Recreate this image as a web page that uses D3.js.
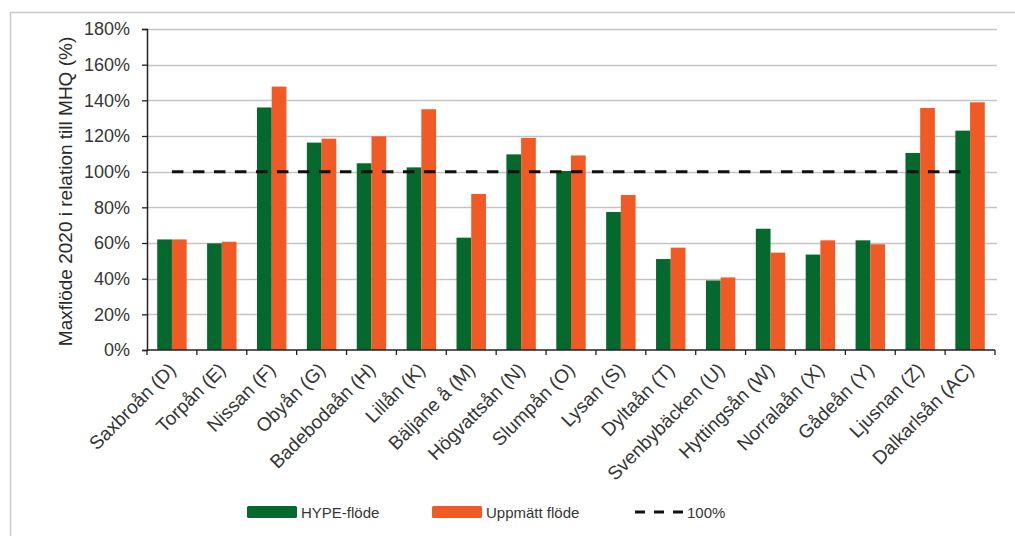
<!DOCTYPE html>
<html>
<head>
<meta charset="utf-8">
<script src="https://cdn.jsdelivr.net/npm/d3@7"></script>
<style>
  html, body { margin: 0; padding: 0; background: #fff; }
  svg { display: block; font-family: "Liberation Sans", Arial, sans-serif; }
</style>
</head>
<body>
<svg id="chart" width="1015" height="536"></svg>
<script>
// Stations (river name + site code)
const categories = [
  "Saxbroån (D)", "Torpån (E)", "Nissan (F)", "Obyån (G)", "Badebodaån (H)",
  "Lillån (K)", "Bäljane å (M)", "Högvattsån (N)", "Slumpån (O)", "Lysan (S)",
  "Dyltaån (T)", "Svenbybäcken (U)", "Hyttingsån (W)", "Norralaån (X)",
  "Gådeån (Y)", "Ljusnan (Z)", "Dalkarlsån (AC)"
];
// Max flow 2020 as percent of MHQ
const hypeValues = [62, 59.8, 136, 116.3, 104.7, 102.4, 63, 109.7, 100.4, 77.4, 51, 39, 68, 53.5, 61.5, 110.5, 123];
const measuredValues = [62, 60.7, 147.7, 118.5, 119.8, 135, 87.5, 118.9, 109.1, 86.9, 57.4, 40.7, 54.6, 61.5, 59.3, 135.7, 138.9];
const seriesNames = ["HYPE-flöde", "Uppmätt flöde"];
const referenceLevel = 100;
const referenceLabel = "100%";
const yTicks = [0, 20, 40, 60, 80, 100, 120, 140, 160, 180];
const yTitle = "Maxflöde 2020 i relation till MHQ (%)";

const colors = ["#05692e", "#f15a24"];
const textColor = "#363636";

const svg = d3.select("#chart");

// Outer frame (left and top edges only)
svg.append("path")
  .attr("d", "M10.5,536 L10.5,12.5 L1015,12.5")
  .attr("fill", "none")
  .attr("stroke", "#c9c9c9")
  .attr("stroke-width", 1.5);

const plot = { left: 147, right: 995, top: 29, bottom: 350 };

const x = d3.scaleBand()
  .domain(categories)
  .range([plot.left, plot.right])
  .paddingInner(0.41)
  .paddingOuter(0.205);

const xs = d3.scaleBand()
  .domain(seriesNames)
  .range([0, x.bandwidth()]);

const y = d3.scaleLinear()
  .domain([0, 180])
  .range([plot.bottom, plot.top]);

// Horizontal gridlines
svg.append("g")
  .selectAll("line")
  .data(yTicks.filter(d => d > 0))
  .join("line")
  .attr("x1", plot.left)
  .attr("x2", plot.right + 2)
  .attr("y1", d => Math.round(y(d)) + 0.5)
  .attr("y2", d => Math.round(y(d)) + 0.5)
  .attr("stroke", "#c4c4c4")
  .attr("stroke-width", 1.4);

// Bars
const rows = categories.map((c, i) => ({ cat: c, vals: [hypeValues[i], measuredValues[i]] }));
const groups = svg.append("g")
  .selectAll("g")
  .data(rows)
  .join("g")
  .attr("transform", d => `translate(${x(d.cat)},0)`);

groups.selectAll("rect")
  .data(d => d.vals.map((v, j) => ({ v, s: seriesNames[j], j })))
  .join("rect")
  .attr("x", d => xs(d.s))
  .attr("width", xs.bandwidth())
  .attr("y", d => y(d.v))
  .attr("height", d => y(0) - y(d.v))
  .attr("fill", d => colors[d.j]);

// 100 % reference line, from first to last category centre
svg.append("line")
  .attr("x1", x(categories[0]) + x.bandwidth() / 2)
  .attr("x2", x(categories[categories.length - 1]) + x.bandwidth() / 2)
  .attr("y1", y(referenceLevel))
  .attr("y2", y(referenceLevel))
  .attr("stroke", "#111")
  .attr("stroke-width", 3)
  .attr("stroke-dasharray", "11.5 9.5");

// Y axis
const yAxis = svg.append("g")
  .attr("transform", `translate(${plot.left},0)`)
  .call(d3.axisLeft(y).tickValues(yTicks).tickFormat(d => d + "%").tickSize(5).tickPadding(12));
yAxis.select(".domain").attr("stroke", "#222").attr("stroke-width", 1.5);
yAxis.selectAll(".tick line").attr("stroke", "#222").attr("stroke-width", 1.3);
yAxis.selectAll(".tick text")
  .attr("font-size", 18)
  .attr("font-family", "Liberation Sans, Arial, sans-serif")
  .attr("fill", textColor);

// X axis: baseline, boundary ticks and rotated labels
const xAxis = svg.append("g");
xAxis.append("line")
  .attr("x1", plot.left)
  .attr("x2", plot.right)
  .attr("y1", plot.bottom)
  .attr("y2", plot.bottom)
  .attr("stroke", "#222")
  .attr("stroke-width", 1.5);

const boundaries = categories.map(c => x(c) + x.bandwidth() / 2 - x.step() / 2)
  .concat([plot.right]);
xAxis.selectAll("line.tick")
  .data(boundaries)
  .join("line")
  .attr("class", "tick")
  .attr("x1", d => d)
  .attr("x2", d => d)
  .attr("y1", plot.bottom)
  .attr("y2", plot.bottom + 5)
  .attr("stroke", "#222")
  .attr("stroke-width", 1.3);

xAxis.selectAll("text")
  .data(categories)
  .join("text")
  .attr("transform", d => `translate(${x(d) + x.bandwidth() / 2 + 5},${plot.bottom + 21}) rotate(-45)`)
  .attr("text-anchor", "end")
  .attr("font-size", 19)
  .attr("fill", textColor)
  .text(d => d);

// Y axis title
svg.append("text")
  .attr("transform", `translate(72,${(plot.top + plot.bottom) / 2 + 2}) rotate(-90)`)
  .attr("text-anchor", "middle")
  .attr("font-size", 19)
  .attr("fill", "#2a2a2a")
  .text(yTitle);

// Legend
const legend = svg.append("g");
const legendItems = [
  { type: "rect", color: colors[0], label: seriesNames[0], x: 247, w: 50 },
  { type: "rect", color: colors[1], label: seriesNames[1], x: 432, w: 50 },
  { type: "dash", color: "#111", label: referenceLabel, x: 635, w: 48 }
];
const ly = 512;
legendItems.forEach(it => {
  if (it.type === "rect") {
    legend.append("rect")
      .attr("x", it.x).attr("y", ly - 6)
      .attr("width", it.w).attr("height", 12)
      .attr("rx", 1.5)
      .attr("fill", it.color);
  } else {
    legend.append("line")
      .attr("x1", it.x).attr("x2", it.x + it.w)
      .attr("y1", ly).attr("y2", ly)
      .attr("stroke", it.color)
      .attr("stroke-width", 3)
      .attr("stroke-dasharray", "10 9");
  }
  legend.append("text")
    .attr("x", it.x + it.w + 4)
    .attr("y", ly + 5.5)
    .attr("font-size", 15)
    .attr("fill", textColor)
    .text(it.label);
});
</script>
</body>
</html>
